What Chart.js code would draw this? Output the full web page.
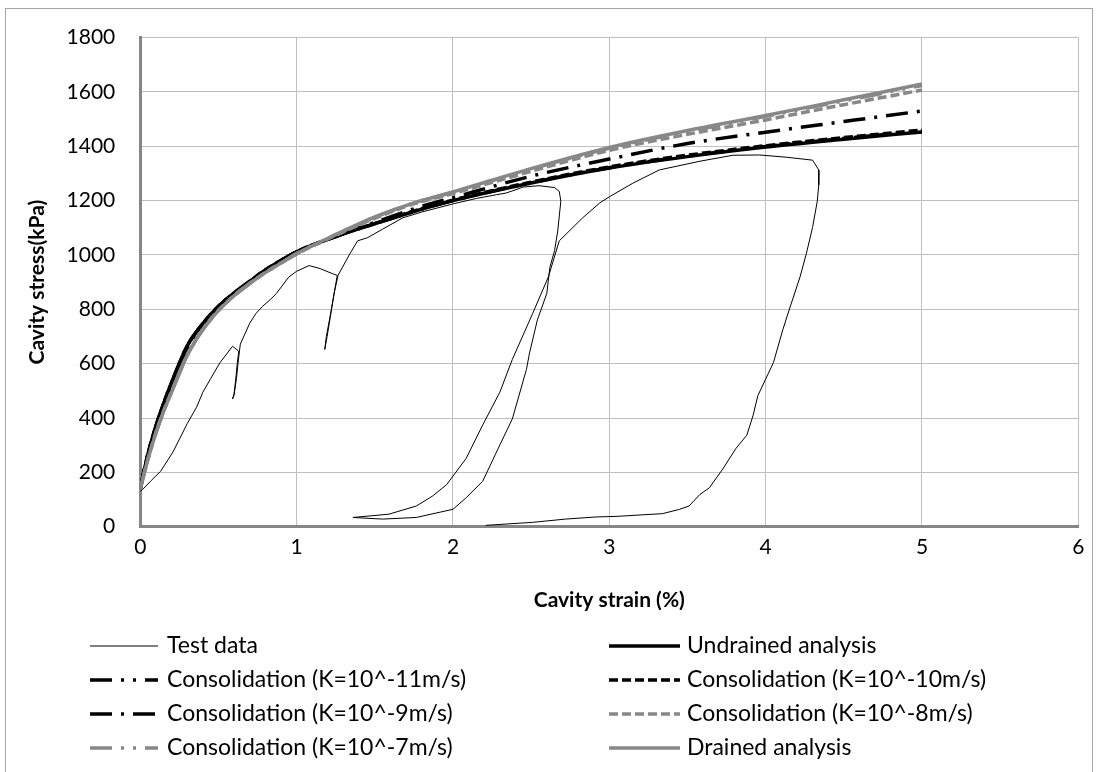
<!DOCTYPE html>
<html><head><meta charset="utf-8">
<script src="https://cdn.jsdelivr.net/npm/chart.js@4.4.0/dist/chart.umd.min.js"></script>
<style>html,body{margin:0;padding:0;background:#fff;}#wrap{width:1101px;height:772px;}</style>
</head><body><div id="wrap"><canvas id="c" width="1101" height="772"></canvas></div>
<script>
// ---- data ----
const seriesNames = ["Test data","Undrained analysis","Consolidation (K=10^-11m/s)","Consolidation (K=10^-10m/s)","Consolidation (K=10^-9m/s)","Consolidation (K=10^-8m/s)","Consolidation (K=10^-7m/s)","Drained analysis"];
const xTickValues = [0,1,2,3,4,5,6];
const yTickValues = [0,200,400,600,800,1000,1200,1400,1600,1800];

const testStrain = [0,0.015,0.07,0.13,0.21,0.30,0.36,0.40,0.45,0.51,0.59,0.63,0.62,0.61,0.60,0.59,0.60,0.615,0.625,0.635,0.64,0.70,0.74,0.78,0.83,0.87,0.95,1.0,1.08,1.15,1.23,1.26,1.24,1.21,1.19,1.18,1.195,1.215,1.24,1.265,1.34,1.39,1.455,1.55,1.68,1.8,2.0,2.15,2.28,2.34,2.45,2.55,2.65,2.68,2.69,2.67,2.65,2.62,2.60,2.54,2.49,2.47,2.38,2.30,2.19,2.085,2.0,1.765,1.55,1.36,1.59,1.765,1.87,1.96,2.085,2.19,2.30,2.38,2.51,2.61,2.68,2.83,2.94,3.0,3.15,3.32,3.58,3.79,3.96,4.13,4.30,4.34,4.34,4.33,4.30,4.26,4.22,4.15,4.11,4.05,4.00,3.95,3.92,3.88,3.81,3.73,3.64,3.58,3.51,3.45,3.34,3.19,3.05,2.92,2.72,2.51,2.21];
const testStress = [130,137,170,204,276,379,440,495,545,604,664,646,600,540,490,470,485,545,600,650,672,749,785,810,835,858,919,940,961,950,931,925,858,761,700,652,700,770,860,925,1004,1052,1064,1095,1137,1158,1188,1208,1222,1228,1250,1255,1248,1234,1198,1088,1016,955,858,761,640,579,397,301,167,107,64,34,28,34,46,76,113,155,252,374,495,616,785,919,1052,1137,1192,1214,1264,1313,1345,1367,1368,1360,1349,1313,1258,1197,1101,1004,919,797,725,604,543,482,410,337,288,216,143,119,76,64,48,43,38,36,28,16,5];

const modelStrain = [0,0.02,0.05,0.1,0.15,0.2,0.3,0.4,0.5,0.6,0.7,0.8,0.9,1.0,1.25,1.5,1.75,2,2.5,3,3.5,4,4.5,5];
const undrainedStress = [140,195,270,370,455,530,665,747,811,860,903,945,980,1012,1068,1115,1160,1200,1265,1320,1362,1397,1426,1453];
const k11Stress       = [140,195,270,370,455,530,665,747,811,860,903,945,980,1012,1068,1115,1160,1200,1266,1321,1364,1399,1429,1456];
const k10Stress       = [140,195,270,370,455,530,665,747,811,860,903,945,980,1012,1068,1116,1162,1202,1268,1324,1367,1402,1432,1460];
const k9Stress        = [140,193,266,365,450,524,658,742,807,857,900,942,978,1010,1068,1120,1170,1211,1290,1353,1410,1452,1491,1530];
const k8Stress        = [140,186,252,347,428,498,632,727,797,851,896,936,971,1004,1072,1135,1188,1226,1308,1385,1444,1497,1553,1607];
const k7Stress        = [140,185,250,345,425,495,630,725,795,850,895,935,970,1005,1075,1139,1191,1231,1316,1393,1454,1510,1567,1624];
const drainedStress   = [140,185,250,345,425,495,630,725,795,850,895,935,970,1005,1075,1140,1192,1232,1318,1396,1458,1513,1571,1629];

const BLACK = '#000000', GRAY = '#888888';
const pts = (xs, ys) => xs.map((x, i) => ({x, y: ys[i]}));

const datasets = [
  {label: seriesNames[0], data: pts(testStrain, testStress), borderColor: BLACK, borderWidth: 1, borderDash: [], tension: 0, order: 8},
  {label: seriesNames[1], data: pts(modelStrain, undrainedStress), borderColor: BLACK, borderWidth: 3.5, borderDash: [], order: 7},
  {label: seriesNames[2], data: pts(modelStrain, k11Stress), borderColor: BLACK, borderWidth: 3.5, borderDash: [22,9,3,9,3,9], order: 6},
  {label: seriesNames[3], data: pts(modelStrain, k10Stress), borderColor: BLACK, borderWidth: 3.5, borderDash: [9,4], order: 5},
  {label: seriesNames[4], data: pts(modelStrain, k9Stress), borderColor: BLACK, borderWidth: 3.5, borderDash: [22,9,3,9], order: 4},
  {label: seriesNames[5], data: pts(modelStrain, k8Stress), borderColor: GRAY, borderWidth: 3.5, borderDash: [9,4], order: 3},
  {label: seriesNames[6], data: pts(modelStrain, k7Stress), borderColor: GRAY, borderWidth: 3.5, borderDash: [22,9,3,9,3,9], order: 2},
  {label: seriesNames[7], data: pts(modelStrain, drainedStress), borderColor: GRAY, borderWidth: 3.5, borderDash: [], order: 1}
].map(d => Object.assign({showLine: true, pointRadius: 0, pointHoverRadius: 0, fill: false, borderCapStyle: 'butt', cubicInterpolationMode: d.tension === 0 ? 'default' : 'monotone'}, d));

const legendPlugin = {
  id: 'excelLegend',
  afterDraw(chart) {
    const ctx = chart.ctx;
    const cols = [{x0: 90, x1: 158, tx: 167}, {x0: 609, x1: 680, tx: 687}];
    const rows = [646, 680, 714, 748];
    chart.data.datasets.forEach((ds, i) => {
      const c = cols[i % 2], y = rows[Math.floor(i / 2)];
      ctx.save();
      ctx.strokeStyle = ds.borderColor;
      ctx.lineWidth = ds.borderWidth;
      ctx.lineCap = 'butt';
      ctx.setLineDash(ds.borderDash || []);
      ctx.beginPath(); ctx.moveTo(c.x0, y); ctx.lineTo(c.x1, y); ctx.stroke();
      ctx.setLineDash([]);
      ctx.fillStyle = '#000';
      ctx.font = '23px Lato';
      ctx.textBaseline = 'middle';
      ctx.fillText(ds.label, c.tx, y);
      ctx.restore();
    });
    ctx.save();
    ctx.strokeStyle = '#a6a6a6';
    ctx.lineWidth = 1;
    ctx.strokeRect(5.5, 8.5, 1087, 800);
    ctx.restore();
  }
};

new Chart(document.getElementById('c'), {
  type: 'scatter',
  data: {datasets},
  plugins: [legendPlugin],
  options: {
    responsive: false,
    devicePixelRatio: 1,
    animation: false,
    layout: {padding: {left: 0, right: 22.7, top: 31.7, bottom: 155.3}},
    plugins: {legend: {display: false}, tooltip: {enabled: false}},
    scales: {
      x: {
        type: 'linear', min: 0, max: 6,
        afterBuildTicks: s => { s.ticks = xTickValues.map(v => ({value: v})); },
        afterFit: s => { s.height = 90; },
        ticks: {color: '#000', font: {family: 'Lato', size: 21}, padding: 8, callback: v => String(v)},
        grid: {color: '#bfbfbf', lineWidth: 1, drawTicks: false},
        border: {color: '#868686', width: 3},
        title: {display: true, text: 'Cavity strain (%)', color: '#000', font: {family: 'Lato', size: 21, weight: 'bold'}, padding: {top: 0, bottom: 4}}
      },
      y: {
        type: 'linear', min: 0, max: 1800,
        afterBuildTicks: s => { s.ticks = yTickValues.map(v => ({value: v})); },
        afterFit: s => { s.width = 140.3; },
        ticks: {color: '#000', font: {family: 'Lato', size: 21}, padding: 25, callback: v => String(v)},
        grid: {color: '#bfbfbf', lineWidth: 1, drawTicks: false},
        border: {color: '#868686', width: 3},
        title: {display: true, text: 'Cavity stress(kPa)', color: '#000', font: {family: 'Lato', size: 21, weight: 'bold'}, padding: {top: 25, bottom: 0}}
      }
    }
  }
});
</script></body></html>
